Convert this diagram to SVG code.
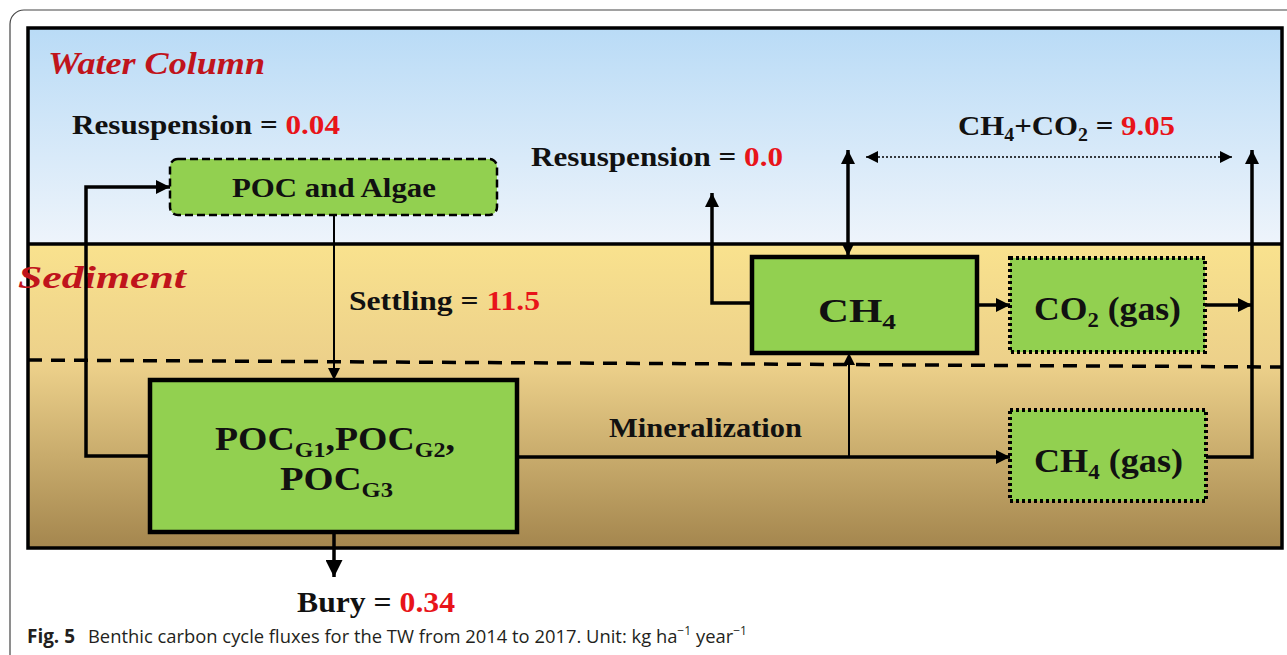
<svg xmlns="http://www.w3.org/2000/svg" width="1287" height="655" viewBox="0 0 1287 655">
<defs>
<linearGradient id="water" x1="0" y1="0" x2="0" y2="1">
<stop offset="0" stop-color="#b9dbf6"/>
<stop offset="1" stop-color="#eef4fb"/>
</linearGradient>
<linearGradient id="sed" x1="0" y1="0" x2="0" y2="1">
<stop offset="0" stop-color="#f9e28e"/>
<stop offset="0.4" stop-color="#ecd08a"/>
<stop offset="1" stop-color="#a4864e"/>
</linearGradient>
<marker id="ah" markerWidth="12" markerHeight="12" viewBox="0 0 10 10" refX="10" refY="5" orient="auto-start-reverse" markerUnits="userSpaceOnUse">
<path d="M0,0 L10,5 L0,10 Z" fill="#000"/>
</marker>
<marker id="ahb" markerWidth="14" markerHeight="14" viewBox="0 0 10 10" refX="10" refY="5" orient="auto-start-reverse" markerUnits="userSpaceOnUse">
<path d="M0,0 L10,5 L0,10 Z" fill="#000"/>
</marker>
<marker id="ahs" markerWidth="17" markerHeight="17" viewBox="0 0 10 10" refX="10" refY="5" orient="auto-start-reverse" markerUnits="userSpaceOnUse">
<path d="M0,0 L10,5 L0,10 Z" fill="#000"/>
</marker>
</defs>
<style>
.t{font-family:"Liberation Serif","Times New Roman",serif;font-weight:bold;fill:#111;}
.red{fill:#e8141a;}
.lbl{font-family:"Liberation Serif","Times New Roman",serif;font-weight:bold;font-style:italic;fill:#c0141c;}
.node{fill:#92d050;}
.thick{stroke:#000;stroke-width:3.5;fill:none;}
.thin{stroke:#000;stroke-width:2;fill:none;}
.cap{font-family:"Open Sans","Liberation Sans",sans-serif;fill:#231f20;}
</style>
<rect x="0" y="0" width="1287" height="655" fill="#fff"/>
<rect x="10" y="10" width="1300" height="660" rx="14" fill="none" stroke="#444" stroke-width="1.2"/>
<g id="background">
<rect x="28" y="28" width="1254" height="216" fill="url(#water)"/>
<rect x="28" y="244" width="1254" height="304" fill="url(#sed)"/>
<rect x="28" y="28" width="1254" height="520" fill="none" stroke="#000" stroke-width="3.5"/>
<line x1="28" y1="244" x2="1282" y2="244" stroke="#000" stroke-width="3.5"/>
<line x1="28" y1="360" x2="1282" y2="367" stroke="#000" stroke-width="3.5" stroke-dasharray="14,9"/>
<text class="lbl" x="48" y="74" font-size="32" textLength="217" lengthAdjust="spacingAndGlyphs">Water Column</text>
<text class="lbl" x="18" y="288" font-size="32" textLength="168" lengthAdjust="spacingAndGlyphs">Sediment</text>
</g>
<g id="connectors">
<polyline class="thick" points="150,456 86,456 86,187 170,187" marker-end="url(#ahb)"/>
<line class="thin" x1="334" y1="215" x2="334" y2="380" marker-end="url(#ah)"/>
<line class="thick" x1="334" y1="532" x2="334" y2="577" marker-end="url(#ahs)"/>
<line class="thick" x1="517" y1="457" x2="1010" y2="457" marker-end="url(#ahb)"/>
<line class="thin" x1="849" y1="457" x2="849" y2="353" marker-end="url(#ah)"/>
<polyline class="thick" points="752,303 712,303 712,193" marker-end="url(#ahb)"/>
<line class="thick" x1="848" y1="150" x2="848" y2="256" marker-start="url(#ahb)" marker-end="url(#ah)"/>
<line x1="866" y1="157" x2="1232" y2="157" stroke="#000" stroke-width="1.3" stroke-dasharray="2,2" marker-start="url(#ah)" marker-end="url(#ah)"/>
<line class="thick" x1="977" y1="305" x2="1010" y2="305" marker-end="url(#ahb)"/>
<line class="thick" x1="1205" y1="305" x2="1252" y2="305" marker-end="url(#ahb)"/>
<polyline class="thick" points="1206,457 1252,457 1252,150" marker-end="url(#ahb)"/>
</g>
<g id="labels">
<text class="t" x="72" y="134" font-size="28" textLength="268" lengthAdjust="spacingAndGlyphs">Resuspension = <tspan class="red">0.04</tspan></text>
<text class="t" x="531" y="166" font-size="28" textLength="252" lengthAdjust="spacingAndGlyphs">Resuspension = <tspan class="red">0.0</tspan></text>
<text class="t" x="958" y="135" font-size="28" textLength="217" lengthAdjust="spacingAndGlyphs">CH<tspan font-size="18" dy="6">4</tspan><tspan dy="-6">+CO</tspan><tspan font-size="18" dy="6">2</tspan><tspan dy="-6"> = </tspan><tspan class="red">9.05</tspan></text>
<text class="t" x="349" y="310" font-size="28" textLength="191" lengthAdjust="spacingAndGlyphs">Settling = <tspan class="red">11.5</tspan></text>
<text class="t" x="609" y="437" font-size="28" textLength="193" lengthAdjust="spacingAndGlyphs">Mineralization</text>
<text class="t" x="297" y="612" font-size="30" textLength="158" lengthAdjust="spacingAndGlyphs">Bury = <tspan class="red">0.34</tspan></text>
</g>
<g id="node-poc-algae">
<rect class="node" x="170" y="159" width="327" height="56" rx="8" stroke="#000" stroke-width="2.5" stroke-dasharray="8,4"/>
<text class="t" x="334" y="197" font-size="27" text-anchor="middle" textLength="204" lengthAdjust="spacingAndGlyphs">POC and Algae</text>
</g>
<g id="node-pocg">
<rect class="node" x="150" y="380" width="367" height="152" stroke="#000" stroke-width="4.5"/>
<text class="t" x="215" y="450" font-size="33" textLength="240" lengthAdjust="spacingAndGlyphs">POC<tspan font-size="21" dy="7">G1</tspan><tspan dy="-7">,POC</tspan><tspan font-size="21" dy="7">G2</tspan><tspan dy="-7">,</tspan></text>
<text class="t" x="280" y="490" font-size="33" textLength="113" lengthAdjust="spacingAndGlyphs">POC<tspan font-size="21" dy="7">G3</tspan></text>
</g>
<g id="node-ch4">
<rect class="node" x="752" y="257" width="225" height="96" stroke="#000" stroke-width="4.5"/>
<text class="t" x="818" y="322" font-size="33" textLength="78" lengthAdjust="spacingAndGlyphs">CH<tspan font-size="21" dy="7">4</tspan></text>
</g>
<g id="node-co2gas">
<rect class="node" x="1010" y="258" width="195" height="94" stroke="#000" stroke-width="4" stroke-dasharray="3,3"/>
<text class="t" x="1034" y="320" font-size="33" textLength="147" lengthAdjust="spacingAndGlyphs">CO<tspan font-size="21" dy="7">2</tspan><tspan dy="-7"> (gas)</tspan></text>
</g>
<g id="node-ch4gas">
<rect class="node" x="1010" y="410" width="196" height="91" stroke="#000" stroke-width="4" stroke-dasharray="3,3"/>
<text class="t" x="1034" y="472" font-size="33" textLength="149" lengthAdjust="spacingAndGlyphs">CH<tspan font-size="21" dy="7">4</tspan><tspan dy="-7"> (gas)</tspan></text>
</g>
<g id="caption">
<text class="cap" x="27" y="643" font-size="20" font-weight="bold" textLength="48" lengthAdjust="spacingAndGlyphs">Fig. 5</text>
<text class="cap" x="88" y="643" font-size="18.3" textLength="659" lengthAdjust="spacingAndGlyphs">Benthic carbon cycle fluxes for the TW from 2014 to 2017. Unit: kg ha<tspan font-size="12" dy="-8">−1</tspan><tspan dy="8"> year</tspan><tspan font-size="12" dy="-8">−1</tspan></text>
</g>
</svg>
